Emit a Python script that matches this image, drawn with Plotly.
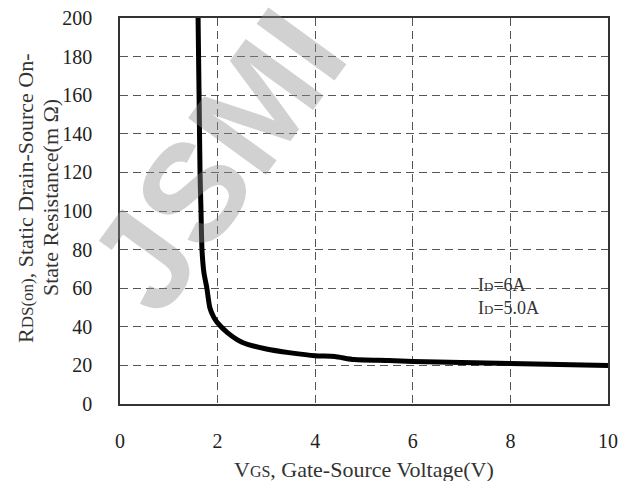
import plotly.graph_objects as go

# Data
vgs = [1.60, 1.61, 1.62, 1.64, 1.66, 1.68, 1.72, 1.78, 1.84, 1.92, 2.0, 2.2, 2.5, 3.0, 3.5, 4.0, 4.4, 4.8, 5.5, 6.0, 7.0, 8.0, 9.0, 10.0]
rds = [200, 180, 160, 120, 100, 80, 68, 60, 50, 45, 42, 37, 32, 28.5, 26.5, 25, 24.6, 23, 22.5, 22, 21.5, 21, 20.5, 20]

x_ticks = [0, 2, 4, 6, 8, 10]
y_ticks = [0, 20, 40, 60, 80, 100, 120, 140, 160, 180, 200]

serif = "Liberation Serif, Times New Roman, serif"

fig = go.Figure()
fig.add_trace(go.Scatter(x=vgs, y=rds, mode="lines",
                         line=dict(color="black", width=5, shape="spline", smoothing=0.6),
                         showlegend=False, hoverinfo="skip"))

axis_common = dict(showline=True, linecolor="#333", linewidth=1.5, mirror=True,
                   showgrid=True, gridcolor="#555", gridwidth=1, griddash="8px,5px",
                   zeroline=False, ticks="", automargin=False,
                   tickfont=dict(family=serif, size=20, color="#222"))

fig.update_xaxes(range=[0, 10], tickvals=x_ticks, ticklabelstandoff=18, **axis_common)
fig.update_yaxes(range=[0, 200], tickvals=y_ticks, ticklabelstandoff=22, **axis_common)

fig.add_annotation(text="I<span style='font-size:13px'>D</span>=6A<br>I<span style='font-size:13px'>D</span>=5.0A",
                   x=7.3, y=55.5, xref="x", yref="y", xanchor="left", yanchor="middle", align="left",
                   showarrow=False, font=dict(family=serif, size=18, color="#333"))

fig.add_annotation(text="V<span style='font-size:16px'>GS</span>, Gate-Source Voltage(V)",
                   x=0.5, y=0, xref="paper", yref="paper", xanchor="center", yanchor="middle", yshift=-65,
                   showarrow=False, font=dict(family=serif, size=22, color="#333"))

fig.add_annotation(text="R<span style='font-size:17px'>DS(on)</span>, Static Drain-Source On-",
                   x=0, y=0.5, xref="paper", yref="paper", xanchor="center", yanchor="middle",
                   xshift=-95, yshift=13, textangle=-90, showarrow=False,
                   font=dict(family=serif, size=22, color="#333"))
fig.add_annotation(text="State Resistance(m \u03a9)",
                   x=0, y=0.5, xref="paper", yref="paper", xanchor="center", yanchor="middle",
                   xshift=-70, yshift=13, textangle=-90, showarrow=False,
                   font=dict(family=serif, size=22, color="#333"))

fig.add_annotation(text="JSMI", x=0.197, y=0.632, xref="paper", yref="paper",
                   xanchor="center", yanchor="middle",
                   textangle=-54, showarrow=False,
                   font=dict(family="Liberation Sans, Arial, sans-serif", size=140, weight="bold",
                             color="rgba(140,140,140,0.4)"))

fig.update_layout(width=620, height=481, margin=dict(l=120, r=12, t=18, b=77, autoexpand=False),
                  plot_bgcolor="white", paper_bgcolor="white")

fig.write_html("out.html")
